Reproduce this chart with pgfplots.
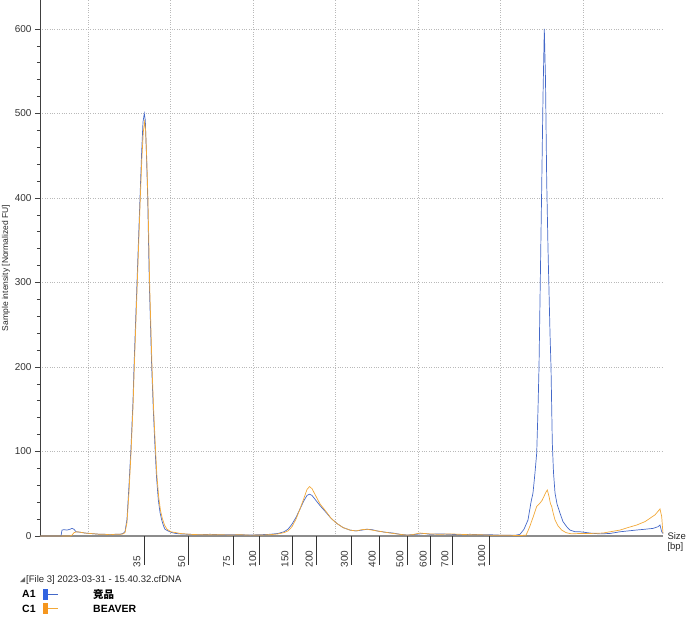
\documentclass[border=0pt]{standalone}
\usepackage{pgfplots}
\pgfplotsset{compat=1.18}
\usepackage{fontspec}
\setmainfont{Liberation Sans}
\newfontfamily\cjk{Noto Sans CJK SC}
\definecolor{ablue}{RGB}{68,104,200}
\definecolor{corange}{RGB}{242,168,56}
\definecolor{sblue}{RGB}{50,100,225}
\definecolor{sorange}{RGB}{245,150,30}
\definecolor{axgray}{RGB}{140,140,140}
\definecolor{griddot}{RGB}{185,185,185}

\begin{document}
\begin{tikzpicture}[x=1pt,y=1pt]
\useasboundingbox (0,0) rectangle (693,621);
\begin{axis}[
  at={(40pt,85pt)}, anchor=south west,
  scale only axis, width=623pt, height=536pt,
  xmin=40, xmax=663, ymin=0, ymax=634.3,
  axis x line*=bottom, axis y line*=left,
  x axis line style={-, draw=axgray, line width=2.4pt},
  y axis line style={-, draw=black!75, line width=0.7pt},
  /pgf/number format/assume math mode=true,
  tick label style={font=\fontsize{10}{12}\selectfont, text=black!80},
  tick align=outside,
  major tick length=5pt, minor tick length=3pt,
  ytick={0,100,200,300,400,500,600},
  minor y tick num=4,
  ytick style={draw=black!75, line width=0.6pt},
  ymajorgrids,
  xtick={137,181.7,226.7,252.7,285,309.3,344.5,372.2,400,423.3,445,481.7},
  xticklabels={35,50,75,100,150,200,300,400,500,600,700,1000},
  xtick style={draw=none},
  xticklabel style={rotate=90, anchor=west},
  xticklabel shift=30pt,
  extra x ticks={144.3,188.3,233,259,292.3,316,351.5,379.5,407.3,430,452.3,489},
  extra x tick labels={},
  extra x tick style={grid=none, major tick length=29pt, xtick style={draw=black!80, line width=0.6pt}},
  minor xtick={88,170.5,253,335.5,418,500.5,583},
  minor x tick style={draw=none},
  xminorgrids,
  major grid style={dotted, griddot, line width=0.8pt},
  minor grid style={dotted, griddot, line width=0.8pt},
  every axis y label/.style={at={(axis description cs:0,0.5)}, xshift=-34pt, rotate=90, anchor=center, font=\fontsize{8.5}{10}\selectfont, text=black!85},
  ylabel={Sample intensity [Normalized FU]},
  every axis x label/.style={at={(axis description cs:1,0)}, anchor=west, align=left, xshift=1pt, yshift=-6pt, font=\fontsize{9.5}{11.5}\selectfont, text=black!85},
  xlabel={Size\\[-1pt][bp]},
  clip=false,
]
\addplot[ablue, line width=0.7pt] coordinates {
(40,0) (61,0) (62,7) (64,7.5) (67,7) (70,8) (72,9) (74,8) (76,5) (80,4.5) (85,3.5) (90,3) (95,2.5) (100,2) (105,2) (110,1.5) (115,2) (120,2) (123,3) (125,5)
(127,20) (129,60) (131,105) (133,160) (134,200) (135.5,250) (137,300) (138.5,350) (140,400) (141.5,450) (143,490) (144.3,500) (145.3,492) (146.5,450) (147.7,400) (148.5,350) (149.3,300) (150.5,250) (151.7,200) (153.3,150) (155,105) (156.5,70) (158.3,43) (160,28) (161.7,19) (163.5,12) (165,8) (168,6) (172,4) (176,3) (180,2.5)
(190,2) (200,1.5) (210,2) (220,1.5) (230,1.5) (240,1.5) (250,1.2) (260,1.5) (270,2) (278,3) (284,5) (288,8) (292,14) (296,22) (300,32) (304,42) (307,48) (309.5,49.5) (312,48) (316,42) (320,36) (326.7,27) (331,21) (336.7,15) (343,10) (350,7) (356,6) (362,7) (367,8) (372,7.5) (377,6) (385,4.5) (393,3.5) (400,2) (407,1.2) (412,1.5) (416,2) (420,2.5) (424,3) (430,2) (440,2.5) (450,2) (460,1.5) (470,2) (480,1.5) (490,1.5) (500,1) (510,1) (516,1)
(520,2) (524,8) (528,19) (531,40) (533,51) (535,75) (536.7,98) (538,150) (539,200) (540,279) (541.7,413) (543,520) (544.3,600) (545.5,540) (546.7,420) (548,340) (549,290) (550,240) (551,200) (552.3,110) (553.5,75) (555,51) (557,38) (560,27) (563,17) (566.7,11) (570,7) (575,5) (580,5) (590,3.5) (600,2.5) (610,3) (620,5) (628,6) (636,7) (645,8) (653,9) (658,11) (660,13) (661.7,5) (663,3)
};
\addplot[corange, line width=0.7pt] coordinates {
(40,0) (70,0) (72,1) (74,4) (77,5) (80,4.5) (85,3.5) (90,3) (95,2.5) (100,2) (105,2) (110,1.5) (115,2) (120,2) (123,2.5) (125,4)
(127,16) (129,52) (131,98) (133,152) (134.3,200) (135.8,250) (137.3,300) (138.8,350) (140.3,400) (141.8,445) (143.3,478) (144.6,490) (145.6,480) (146.8,445) (147.9,400) (148.8,350) (149.6,300) (150.8,250) (152,200) (153.6,150) (155.3,108) (156.8,73) (158.7,46) (160.5,30) (162.5,20) (164.5,13) (167,8) (171,5) (176,4) (180,3)
(190,2) (200,1.5) (210,1.5) (220,1.5) (230,1.2) (240,1.5) (250,1) (260,1.2) (270,1.5) (278,2.5) (284,4) (288,6) (292,11) (296,20) (300,32) (304,45) (307,55) (309.5,58.5) (312,56) (316,47) (320,38) (326.7,28) (331,21) (336.7,15) (343,10) (350,7) (356,6) (362,7.5) (367,8) (372,7) (377,6) (385,4.5) (393,3) (400,2) (407,1) (412,1.5) (420,3.5) (424,3) (430,2.5) (440,2) (450,2.5) (460,2) (470,1.5) (480,1.5) (490,1) (500,1) (510,0.8) (520,0.5)
(526,1) (528.3,7) (530,12) (533.3,23) (536.7,35) (540,39) (542,42) (544,47) (546,52) (547.3,54.4) (549,47) (550.5,38) (551.7,35) (553,28) (555,19) (558,12) (561.7,7) (566,4) (571.7,2.5) (580,3) (590,3) (603,3.5) (610,5) (620,7) (628,10) (636.7,13) (645,17) (650,21) (655,25) (660,32) (661.7,23) (662.5,10) (663,3)
};
\end{axis}
% legend block
\fill[black!60] (20,39) -- (25,39) -- (25,44) -- cycle;
\node[anchor=west, inner sep=0pt, font=\fontsize{9.5}{11}\selectfont, text=black!85] at (26,40.5) {[File 3] 2023-03-31 - 15.40.32.cfDNA};
\node[anchor=west, inner sep=0pt, font=\fontsize{10.5}{12}\selectfont\bfseries] at (22,27) {A1};
\fill[sblue] (43,21.5) rectangle (47.5,32.5);
\draw[ablue, line width=0.8pt] (47.5,27) -- (58,27);
\node[anchor=west, inner sep=0pt, font=\fontsize{10.5}{12}\selectfont\cjk\bfseries] at (93,27) {竞品};
\node[anchor=west, inner sep=0pt, font=\fontsize{10.5}{12}\selectfont\bfseries] at (22,12.5) {C1};
\fill[sorange] (43,7) rectangle (47.5,18);
\draw[corange, line width=0.8pt] (47.5,12.5) -- (58,12.5);
\node[anchor=west, inner sep=0pt, font=\fontsize{10.5}{12}\selectfont\bfseries] at (93,12.5) {BEAVER};
\end{tikzpicture}
\end{document}
